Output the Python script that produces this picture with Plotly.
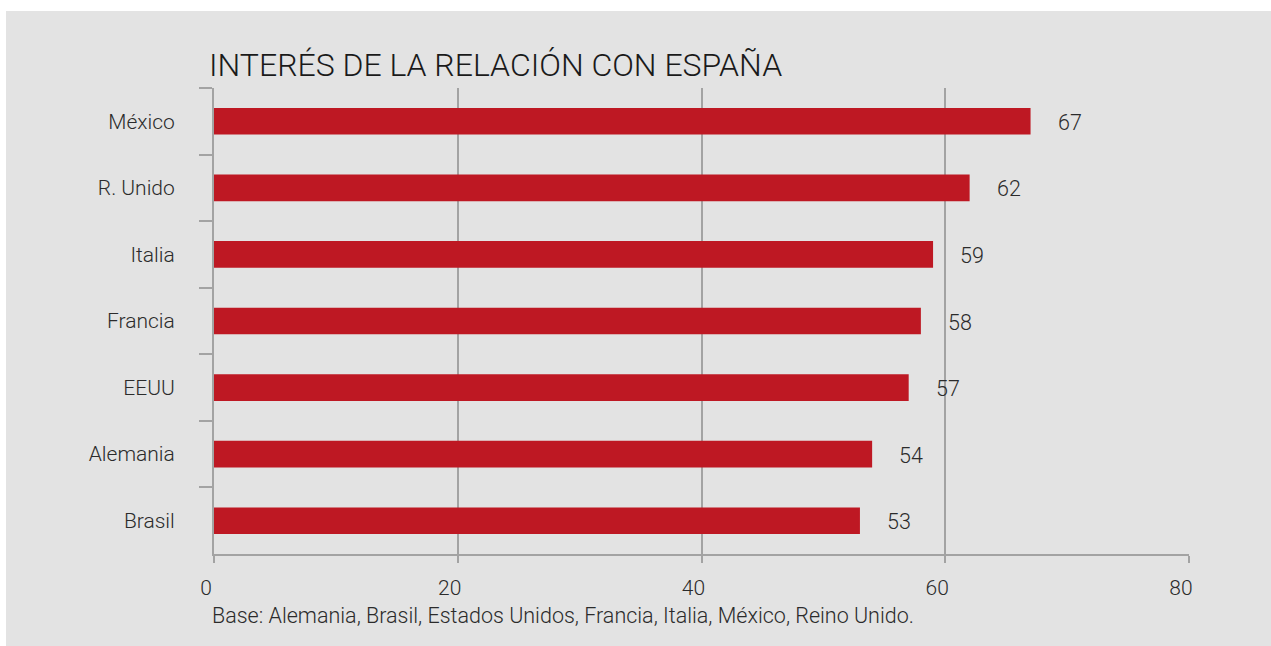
import plotly.graph_objects as go

categories = ["México", "R. Unido", "Italia", "Francia", "EEUU", "Alemania", "Brasil"]
values = [67, 62, 59, 58, 57, 54, 53]
x_ticks = [0, 20, 40, 60, 80]

title_text = "INTERÉS DE LA RELACIÓN CON ESPAÑA"
caption_text = "Base: Alemania, Brasil, Estados Unidos, Francia, Italia, México, Reino Unido."

BAR = "#be1823"
BG = "#e3e3e3"
GRID = "#a3a3a3"
TXT = "#2b2b2b"
FONT = "Roboto"

fig = go.Figure()
fig.add_trace(go.Bar(
    x=values, y=categories, orientation="h",
    marker=dict(color=BAR, line=dict(width=0)),
    width=0.4, hoverinfo="skip",
))

for c, v in zip(categories, values):
    fig.add_annotation(x=v, y=c, xref="x", yref="y", text=str(v),
                       showarrow=False, xanchor="left", yanchor="middle",
                       xshift=25, yshift=-1, font=dict(family=FONT, size=21.5, color=TXT, weight=300))

fig.add_annotation(xref="paper", yref="paper", x=0, y=0, xanchor="left", yanchor="middle",
                   xshift=-4, yshift=-61, text=caption_text, showarrow=False,
                   font=dict(family=FONT, size=21.5, color=TXT, weight=300))

fig.update_layout(
    width=1271, height=646,
    margin=dict(l=214, r=82, t=88, b=92),
    paper_bgcolor=BG, plot_bgcolor=BG,
    showlegend=False,
    title=dict(text=title_text, x=209/1271, xanchor="left", xref="container",
               y=1 - 65/646, yanchor="middle", yref="container",
               font=dict(family=FONT, size=32, color="#1a1a1a", weight=300)),
    font=dict(family=FONT, size=21, color=TXT),
    xaxis=dict(range=[0, 80], tickvals=x_ticks, showgrid=True, gridcolor=GRID, gridwidth=1.5,
               zeroline=False, showline=True, linecolor=GRID, linewidth=2,
               ticks="outside", ticklen=7, tickcolor=GRID, tickwidth=2,
               ticklabelshift=-8, ticklabelstandoff=7,
               tickfont=dict(family=FONT, size=21, color=TXT, weight=300), fixedrange=True),
    yaxis=dict(categoryorder="array", categoryarray=categories, autorange="reversed",
               showgrid=False, zeroline=False, showline=True, linecolor=GRID, linewidth=2,
               ticks="outside", tickson="boundaries", ticklen=13, tickcolor=GRID, tickwidth=2,
               ticklabelstandoff=33,
               tickfont=dict(family=FONT, size=21, color=TXT, weight=300), fixedrange=True),
    bargap=0.6,
)

# white borders (top and left) outside the grey panel
pw, ph = 1271 - 214 - 82, 646 - 88 - 92
fig.add_shape(type="rect", xref="paper", yref="paper",
              x0=-214/pw, x1=(1271-214)/pw, y0=1 + (88-11)/ph, y1=1 + 88/ph,
              fillcolor="white", line=dict(width=0), layer="below")
fig.add_shape(type="rect", xref="paper", yref="paper",
              x0=-214/pw, x1=-(214-6)/pw, y0=-92/ph, y1=1 + 88/ph,
              fillcolor="white", line=dict(width=0), layer="below")

fig.write_html("out.html",
               config={"displayModeBar": False},
               post_script="document.body.style.margin='0';document.body.style.overflow='hidden';"
                           "document.body.style.background='" + BG + "';"
                           "document.documentElement.style.background='" + BG + "';")
